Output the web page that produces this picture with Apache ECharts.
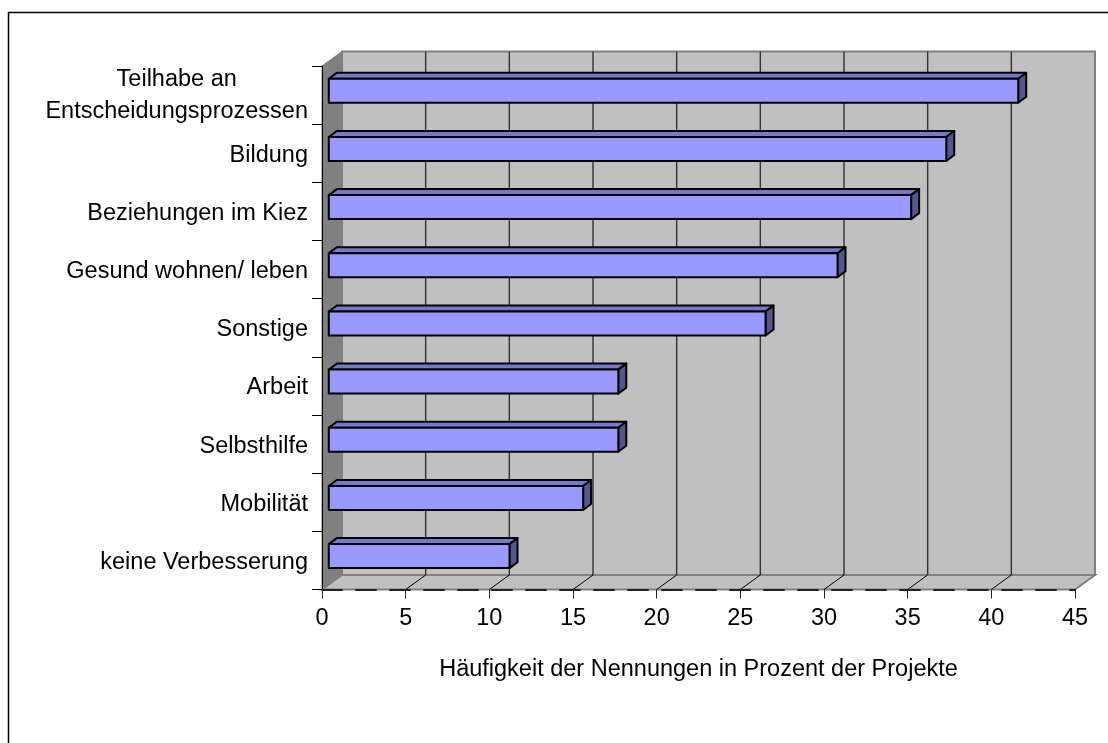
<!DOCTYPE html>
<html><head><meta charset="utf-8">
<style>html,body{margin:0;padding:0;background:#fff}#c{width:1108px;height:743px}</style>
<script src="https://cdn.jsdelivr.net/npm/echarts@6/dist/echarts.min.js"></script>
</head><body><div id="c"></div>
<script>
const categories = ['Teilhabe an\nEntscheidungsprozessen','Bildung','Beziehungen im Kiez','Gesund wohnen/ leben','Sonstige','Arbeit','Selbsthilfe','Mobilität','keine Verbesserung'];
const values = [41.2,36.9,34.8,30.4,26.1,17.3,17.3,15.2,10.8];
const gridValues = [5,10,15,20,25,30,35,40];
const axisTitle = 'Häufigkeit der Nennungen in Prozent der Projekte';
const FONT = '"Liberation Sans", Arial, sans-serif';
const FS = 23.5;
const DX = 20, DY = 14.5;

const chart = echarts.init(document.getElementById('c'), null, {renderer:'canvas'});
function poly(points, style, z2){ return {type:'polygon', z2:z2||0, shape:{points}, style}; }

chart.setOption({
  animation:false,
  backgroundColor:'#fff',
  grid:{left:322, right:33, top:66, bottom:153.5, containLabel:false},
  xAxis:{type:'value', min:0, max:45, interval:5, z:6,
    name:axisTitle, nameLocation:'center', nameGap:68,
    nameTextStyle:{fontFamily:FONT, fontSize:FS, color:'#000'},
    axisLine:{show:true, onZero:false, lineStyle:{color:'#222', width:2, type:[20,14]}},
    axisTick:{show:true, length:9, lineStyle:{color:'#222', width:1}},
    axisLabel:{fontFamily:FONT, fontSize:FS, color:'#000', margin:17},
    splitLine:{show:false}},
  yAxis:{type:'category', inverse:true, data:categories, z:6,
    axisLine:{show:true, lineStyle:{color:'#000', width:1}},
    axisTick:{show:true, length:10, alignWithLabel:false, lineStyle:{color:'#000', width:1}},
    axisLabel:{interval:0, margin:14, align:'right', fontFamily:FONT, fontSize:FS, color:'#000',
      formatter:function(v){ return v.indexOf('\n')<0 ? '{n|'+v+'}' : v.split('\n').map(s=>'{c|'+s+'}').join('\n'); },
      rich:{c:{align:'center', fontFamily:FONT, fontSize:FS, color:'#000', lineHeight:32},
            n:{fontFamily:FONT, fontSize:FS, color:'#000', padding:[4,0,0,0]}}},
    splitLine:{show:false}},
  graphic:[{type:'polyline', silent:true, z:-1, shape:{points:[[8.5,743],[8.5,12.5],[1108,12.5]]}, style:{fill:'none', stroke:'#000', lineWidth:1.5}}],
  series:[
    {type:'custom', name:'walls', coordinateSystem:'cartesian2d', z:1, silent:true, clip:false,
     data:[[0,0]], encode:{x:0,y:1},
     renderItem:function(params, api){
       const c = params.coordSys, L=c.x, R=c.x+c.width, T=c.y, B=c.y+c.height;
       return {type:'group', children:[
         poly([[L+DX,T-DY],[R+DX,T-DY],[R+DX,B-DY],[L+DX,B-DY]], {fill:'#c0c0c0', stroke:'#808080', lineWidth:2}),
         poly([[L,T],[L+DX,T-DY],[L+DX,B-DY],[L,B]], {fill:'#808080', stroke:'#808080', lineWidth:1}),
         poly([[L,B],[L+DX,B-DY],[R+DX,B-DY],[R,B]], {fill:'#c0c0c0', stroke:'#808080', lineWidth:2})
       ]};
     }},
    {type:'custom', name:'grid', coordinateSystem:'cartesian2d', z:2, silent:true, clip:false,
     data:gridValues.map(v=>[v,0]), encode:{x:0,y:1},
     renderItem:function(params, api){
       const c = params.coordSys, T=c.y, B=c.y+c.height, x=api.coord([api.value(0),0])[0];
       return {type:'group', children:[
         {type:'line', shape:{x1:x+DX,y1:T-DY,x2:x+DX,y2:B-DY}, style:{stroke:'#333', lineWidth:1.4, fill:'none'}},
         {type:'line', shape:{x1:x,y1:B,x2:x+DX,y2:B-DY}, style:{stroke:'#000', lineWidth:1, fill:'none'}}
       ]};
     }},
    {type:'custom', name:'bars', coordinateSystem:'cartesian2d', z:3, clip:false,
     data:values.map((v,i)=>[v,i]), encode:{x:0,y:1},
     renderItem:function(params, api){
       const p = api.coord([api.value(0), api.value(1)]), o = api.coord([0, api.value(1)]);
       const x0=o[0]+6.8, x1=p[0]+6.8, yc=p[1]-4.3, h=24, dx=8, dy=6;
       const t=yc-h/2, b=yc+h/2;
       const s={stroke:'#000', lineWidth:2, lineJoin:'round'};
       return {type:'group', children:[
         poly([[x0,t],[x0+dx,t-dy],[x1+dx,t-dy],[x1,t]], Object.assign({fill:'#7777cc'},s)),
         poly([[x1,t],[x1+dx,t-dy],[x1+dx,b-dy],[x1,b]], Object.assign({fill:'#55558f'},s)),
         poly([[x0,t],[x1,t],[x1,b],[x0,b]], Object.assign({fill:'#9999ff'},s))
       ]};
     }}
  ]
});
</script></body></html>
